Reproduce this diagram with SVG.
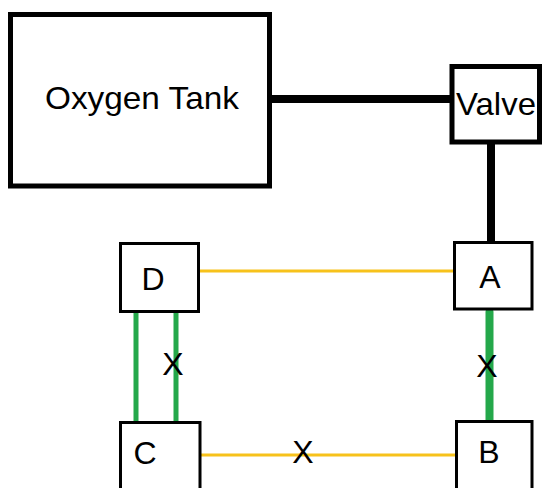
<svg xmlns="http://www.w3.org/2000/svg" width="542" height="488" viewBox="0 0 542 488">
<style>
.big{fill:#fff;stroke:#000;stroke-width:5}
.small{fill:#fff;stroke:#000;stroke-width:3}
text{font-family:"Liberation Sans",Arial,sans-serif;font-size:32px;fill:#000;text-anchor:middle}
.pipe{stroke:#000;stroke-width:8;fill:none}
.yel{stroke:#F7C21B;stroke-width:3;fill:none}
.grn{stroke:#24A84A;stroke-linecap:round;fill:none}
</style>
<rect width="542" height="488" fill="#fff"/>
<g id="connectors">
<line class="pipe" x1="267" y1="99" x2="452" y2="99"/>
<line class="pipe" x1="491" y1="143" x2="491" y2="242"/>
<line class="yel" x1="199" y1="271" x2="454" y2="271"/>
<line class="yel" x1="200" y1="455" x2="456" y2="455"/>
<line class="grn" stroke-width="5" x1="136" y1="313" x2="136" y2="423"/>
<line class="grn" stroke-width="5" x1="176" y1="313" x2="176" y2="423"/>
<line class="grn" stroke-width="8" x1="489.5" y1="312" x2="489.5" y2="420"/>
<text x="173" y="375">X</text>
<text x="487" y="377">X</text>
<text x="303" y="463">X</text>
</g>
<g id="tank">
<rect class="big" x="10.5" y="14.5" width="259" height="171.5"/>
<text x="142" y="109" textLength="194" lengthAdjust="spacingAndGlyphs">Oxygen Tank</text>
</g>
<g id="valve">
<rect class="big" x="452" y="66.5" width="87.5" height="75.5"/>
<text x="496" y="115" textLength="80" lengthAdjust="spacingAndGlyphs">Valve</text>
</g>
<g id="D">
<rect class="small" x="120.5" y="243.5" width="78" height="68"/>
<text x="153" y="290">D</text>
</g>
<g id="A">
<rect class="small" x="454.5" y="242.5" width="77.5" height="66.5"/>
<text x="490" y="288">A</text>
</g>
<g id="C">
<rect class="small" x="120.5" y="422.5" width="79.5" height="80"/>
<text x="145" y="464">C</text>
</g>
<g id="B">
<rect class="small" x="456.5" y="421.5" width="75.5" height="80"/>
<text x="489" y="463">B</text>
</g>
</svg>
